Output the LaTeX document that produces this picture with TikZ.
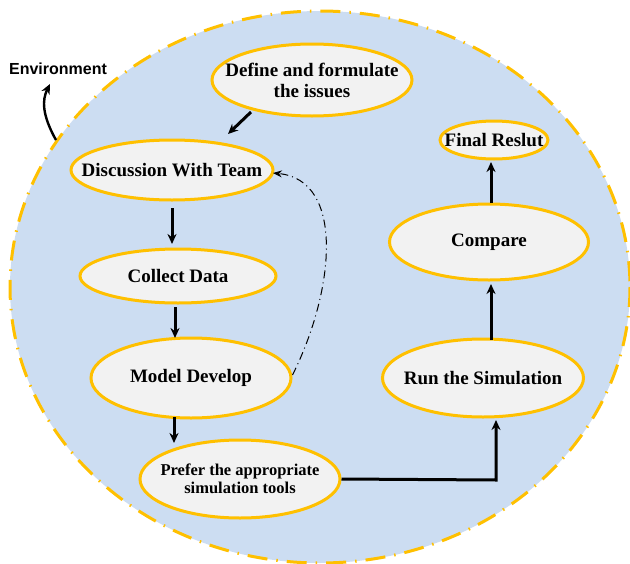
\documentclass[tikz,border=0pt]{standalone}
\usepackage{fontspec}
\setmainfont{Liberation Serif}
\setsansfont{Liberation Sans}
\usetikzlibrary{shapes.geometric,arrows.meta}
\definecolor{envfill}{HTML}{CCDDF2}
\definecolor{gold}{HTML}{FFC000}
\definecolor{nodefill}{HTML}{F2F2F2}
\tikzset{
  stage/.style={ellipse, draw=gold, line width=3pt, fill=nodefill, inner sep=-80pt, align=center, font=\bfseries\fontsize{19}{21}\selectfont},
  flow/.style={line width=3pt, -{Stealth[length=10pt,width=9pt]}},
  loopback/.style={line width=1pt, dash pattern=on 8pt off 4pt on 1pt off 4pt, -{Stealth[length=9pt,width=7pt]}}
}
\begin{document}
\begin{tikzpicture}[x=1pt,y=-1pt]
\useasboundingbox (0,0) rectangle (630,563);
\fill[envfill] (320,287) ellipse [x radius=310, y radius=276];
\draw[gold, line width=3pt, dash pattern=on 20pt off 9pt on 1.5pt off 9pt] (320,287) ellipse [x radius=310, y radius=276];

\node[stage, minimum width=200pt, minimum height=72pt] (define) at (312,80) {Define and formulate\\the issues};
\node[stage, minimum width=202pt, minimum height=60pt] (disc) at (172,170) {Discussion With Team};
\node[stage, minimum width=196pt, minimum height=54pt] (collect) at (178,276) {Collect Data};
\node[stage, minimum width=200pt, minimum height=80pt] (model) at (191,378) {Model Develop};
\node[stage, minimum width=200pt, minimum height=78pt, font=\bfseries\fontsize{16.5}{18.5}\selectfont] (prefer) at (240,479) {Prefer the appropriate\\simulation tools};
\node[stage, minimum width=201pt, minimum height=78pt] (run) at (483,378) {Run the Simulation};
\node[stage, minimum width=199pt, minimum height=76pt] (compare) at (489,242) {Compare};
\node[stage, minimum width=108pt, minimum height=38pt] (final) at (494,140) {Final Reslut};

\node[font=\sffamily\bfseries\fontsize{16}{18}\selectfont] (env) at (58,69) {Environment};
\coordinate (envstart) at (56,140);

\draw[flow] (251,112) -- (228,134);
\draw[flow] (172,208) -- (172,244);
\draw[flow] (175,307) -- (175,338);
\draw[flow] (174,417) -- (174,443);
\draw[flow] (prefer.east) -- (496,480) -- (496,420);
\draw[flow] (491,340) -- (491,284);
\draw[flow] (491,203) -- (491,162);
\draw[loopback] (model.east) ++(0,-3) .. controls (335,290) and (345,180) .. (273,173);
\draw[line width=2.4pt, -{Stealth[length=10pt,width=9pt]}] (envstart) .. controls (42,115) and (42,100) .. (50,84);
\end{tikzpicture}
\end{document}
